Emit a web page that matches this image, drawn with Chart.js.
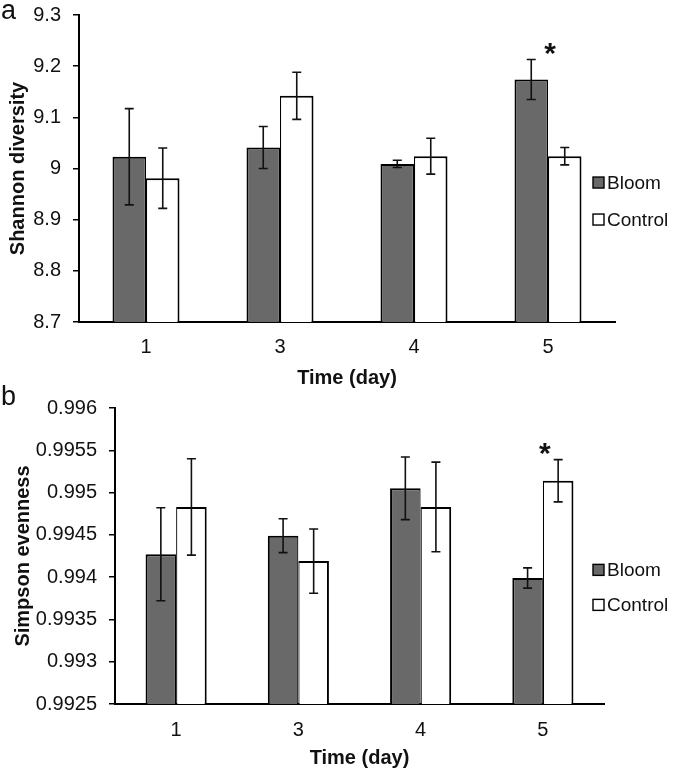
<!DOCTYPE html>
<html><head><meta charset="utf-8">
<script src="https://cdn.jsdelivr.net/npm/chart.js@4.4.0/dist/chart.umd.min.js"></script>
<style>
html,body{margin:0;padding:0;background:#fff;}
#wrap{position:relative;width:675px;height:772px;overflow:hidden;background:#fff;}
canvas{position:absolute;left:0;}
</style></head><body>
<div id="wrap">
<canvas id="ca" width="675" height="390" style="top:0px"></canvas>
<canvas id="cb" width="675" height="392" style="top:380px"></canvas>
</div>
<script>
// ---------- data ----------
const days = ['1', '3', '4', '5'];
const seriesNames = ['Bloom', 'Control'];

const shannonBloom      = [9.023, 9.041, 9.009, 9.174];
const shannonBloomErr   = [0.094, 0.041, 0.007, 0.039];
const shannonControl    = [8.981, 9.142, 9.024, 9.024];
const shannonControlErr = [0.059, 0.046, 0.035, 0.017];
const shannonSig        = ['', '', '', '*'];
const shannonTickValues = [8.7, 8.8, 8.9, 9.0, 9.1, 9.2, 9.3];
const shannonTickLabels = ['8.7', '8.8', '8.9', '9', '9.1', '9.2', '9.3'];

const simpsonBloom      = [0.99427, 0.99449, 0.99505, 0.99399];
const simpsonBloomErr   = [0.00055, 0.00020, 0.00037, 0.00012];
const simpsonControl    = [0.99483, 0.99419, 0.99483, 0.99514];
const simpsonControlErr = [0.00057, 0.00038, 0.00053, 0.00025];
const simpsonSig        = ['', '', '', '*'];
const simpsonTickValues = [0.9925, 0.993, 0.9935, 0.994, 0.9945, 0.995, 0.9955, 0.996];
const simpsonTickLabels = ['0.9925', '0.993', '0.9935', '0.994', '0.9945', '0.995', '0.9955', '0.996'];

// ---------- styling ----------
const FONT = "'Liberation Sans', Arial, Helvetica, sans-serif";
Chart.defaults.font.family = FONT;
Chart.defaults.color = '#000';
const BLOOM_COLOR = '#696969';
const CONTROL_COLOR = '#ffffff';

const extrasPlugin = {
  id: 'extras',
  afterDatasetsDraw(chart, args, opts) {
    const ctx = chart.ctx;
    const ys = chart.scales.y, xs = chart.scales.x;
    const tops = [];
    // error bars
    chart.data.datasets.forEach((ds, di) => {
      const meta = chart.getDatasetMeta(di);
      meta.data.forEach((bar, i) => {
        const v = ds.data[i], e = ds.errors[i];
        const yT = ys.getPixelForValue(v + e), yB = ys.getPixelForValue(v - e);
        tops[i] = Math.min(tops[i] === undefined ? Infinity : tops[i], yT);
        ctx.save();
        ctx.strokeStyle = '#111';
        ctx.lineWidth = 1.6;
        ctx.beginPath();
        ctx.moveTo(bar.x, yT); ctx.lineTo(bar.x, yB);
        ctx.moveTo(bar.x - 4.5, yT); ctx.lineTo(bar.x + 4.5, yT);
        ctx.moveTo(bar.x - 4.5, yB); ctx.lineTo(bar.x + 4.5, yB);
        ctx.stroke();
        ctx.restore();
      });
    });
    // significance markers
    ctx.save();
    ctx.fillStyle = '#111';
    ctx.font = 'bold 30px ' + FONT;
    ctx.textAlign = 'center';
    ctx.textBaseline = 'alphabetic';
    const m = ctx.measureText('*');
    (opts.sig || []).forEach((s, i) => {
      if (!s) return;
      const cx = xs.getPixelForValue(i);
      const cy = tops[i] - 11;
      const base = cy + (m.actualBoundingBoxAscent - m.actualBoundingBoxDescent) / 2;
      ctx.fillText(s, cx + 2, base);
    });
    ctx.restore();
  },
  afterDraw(chart, args, opts) {
    const ctx = chart.ctx;
    const area = chart.chartArea;
    // legend
    const cy0 = area.top + 0.606 * (area.bottom - area.top) - opts.legendGap / 2;
    chart.data.datasets.forEach((ds, di) => {
      const cy = cy0 + di * opts.legendGap;
      ctx.save();
      ctx.fillStyle = ds.backgroundColor;
      ctx.strokeStyle = '#000';
      ctx.lineWidth = 1.4;
      ctx.fillRect(opts.legendX, cy - 5.5, 11, 11);
      ctx.strokeRect(opts.legendX, cy - 5.5, 11, 11);
      ctx.fillStyle = '#111';
      ctx.font = '19px ' + FONT;
      ctx.textAlign = 'left';
      ctx.textBaseline = 'middle';
      ctx.fillText(ds.label, opts.legendX + 14, cy + 1);
      ctx.restore();
    });
    // panel label
    ctx.save();
    ctx.fillStyle = '#111';
    ctx.font = '27px ' + FONT;
    ctx.textAlign = 'left';
    ctx.textBaseline = 'alphabetic';
    ctx.fillText(opts.panelLabel, 1, opts.panelLabelY);
    ctx.restore();
  }
};

function makeChart(id, p) {
  return new Chart(document.getElementById(id), {
    type: 'bar',
    data: {
      labels: days,
      datasets: [
        { label: seriesNames[0], data: p.bloom, errors: p.bloomErr,
          backgroundColor: BLOOM_COLOR, borderColor: '#000',
          borderWidth: { left: 2, top: 2, right: 1.2, bottom: 0 }, borderSkipped: 'start' },
        { label: seriesNames[1], data: p.control, errors: p.controlErr,
          backgroundColor: CONTROL_COLOR, borderColor: '#000',
          borderWidth: { left: 1.2, top: 2, right: 2, bottom: 0 }, borderSkipped: 'start' }
      ]
    },
    options: {
      responsive: false,
      animation: false,
      events: [],
      datasets: { bar: { categoryPercentage: 0.5, barPercentage: 1.0 } },
      layout: { padding: { left: 0, right: p.padRight, top: p.padTop, bottom: p.padBottom } },
      plugins: {
        legend: { display: false },
        tooltip: { enabled: false },
        extras: { sig: p.sig, legendX: 593, legendGap: p.legendGap,
                  panelLabel: p.panelLabel, panelLabelY: p.panelLabelY }
      },
      scales: {
        x: {
          afterFit: s => { s.height = p.xHeight; s.paddingLeft = 0; s.paddingRight = 0; },
          grid: { display: false, drawTicks: false },
          border: { display: true, color: '#000', width: 2 },
          ticks: { font: { size: 20 }, color: '#111', padding: p.xTickPad },
          title: { display: true, text: 'Time (day)', color: '#111',
                   font: { size: 20, weight: 'bold' }, padding: { top: 0, bottom: 0 } }
        },
        y: {
          min: p.tickValues[0], max: p.tickValues[p.tickValues.length - 1],
          afterBuildTicks: s => { s.ticks = p.tickValues.map(v => ({ value: v })); },
          afterFit: s => { s.width = p.yWidth; s.paddingTop = 0; s.paddingBottom = 0; },
          grid: { drawOnChartArea: false, drawTicks: true, tickLength: 6, color: '#000', lineWidth: 1.5 },
          border: { display: true, color: '#000', width: 2 },
          ticks: { font: { size: 20 }, color: '#111', padding: 12,
                   callback: (v, i) => p.tickLabels[i] },
          title: { display: true, text: p.yTitle, color: '#111',
                   font: { size: 20, weight: 'bold' }, padding: { top: p.yTitlePad, bottom: 0 } }
        }
      }
    },
    plugins: [extrasPlugin]
  });
}

makeChart('ca', {
  bloom: shannonBloom, bloomErr: shannonBloomErr,
  control: shannonControl, controlErr: shannonControlErr,
  sig: shannonSig, tickValues: shannonTickValues, tickLabels: shannonTickLabels,
  yTitle: 'Shannon diversity', yTitlePad: 6, yWidth: 79,
  padRight: 60, padTop: 15, padBottom: 0, xHeight: 68, xTickPad: 13,
  legendGap: 37, panelLabel: 'a', panelLabelY: 19
});

makeChart('cb', {
  bloom: simpsonBloom, bloomErr: simpsonBloomErr,
  control: simpsonControl, controlErr: simpsonControlErr,
  sig: simpsonSig, tickValues: simpsonTickValues, tickLabels: simpsonTickLabels,
  yTitle: 'Simpson evenness', yTitlePad: 11, yWidth: 115,
  padRight: 71, padTop: 28, padBottom: 2, xHeight: 66, xTickPad: 14,
  legendGap: 35, panelLabel: 'b', panelLabelY: 25
});
</script>
</body></html>
